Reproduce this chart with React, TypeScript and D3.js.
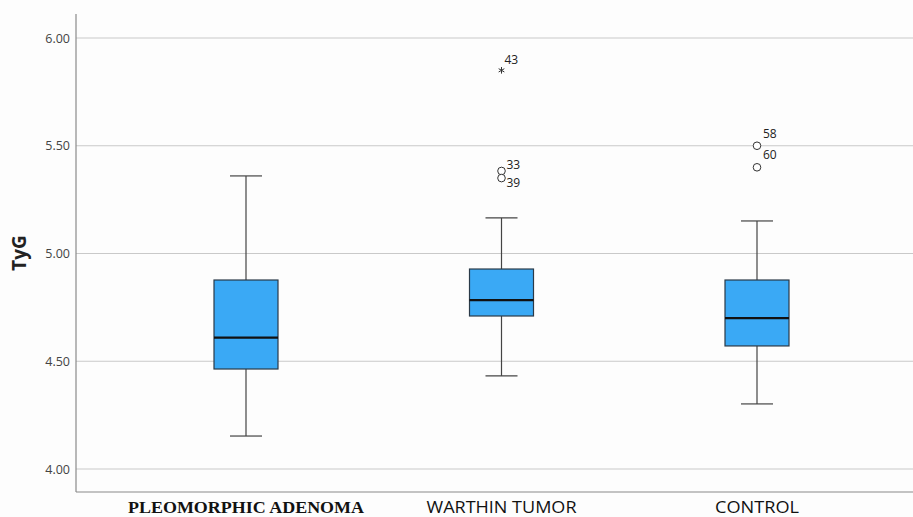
import React from 'react'
import * as d3 from 'd3'

// data
const groups = ['PLEOMORPHIC ADENOMA', 'WARTHIN TUMOR', 'CONTROL']
const whiskerLow = [4.153, 4.432, 4.302]
const q1 = [4.464, 4.71, 4.571]
const median = [4.61, 4.784, 4.7]
const q3 = [4.877, 4.928, 4.877]
const whiskerHigh = [5.36, 5.165, 5.151]
const outliers = [
  { group: 'WARTHIN TUMOR', value: 5.85, id: '43', extreme: true },
  { group: 'WARTHIN TUMOR', value: 5.383, id: '33', extreme: false },
  { group: 'WARTHIN TUMOR', value: 5.35, id: '39', extreme: false },
  { group: 'CONTROL', value: 5.5, id: '58', extreme: false },
  { group: 'CONTROL', value: 5.4, id: '60', extreme: false },
]
const yTicks = [4.0, 4.5, 5.0, 5.5, 6.0]

// label offsets for case ids (style only)
const labelOffset: Record<string, [number, number]> = {
  '43': [3, -6],
  '33': [5, -2],
  '39': [5, 9],
  '58': [6, -8],
  '60': [6, -8],
}

// category label styling: first label is set in a bold serif, others in a sans
const labelFont = ['"Liberation Serif", serif', '"Open Sans", sans-serif', '"Open Sans", sans-serif']
const labelWeight = ['bold', 'normal', 'normal']
const labelSize = [17, 16, 16]
const labelWidth = [236, 150, 84]

const W = 913
const H = 517

export default function App() {
  const left = 76
  const right = 913
  const top = 14
  const bottom = 492

  const y = d3.scaleLinear().domain([4.0, 6.0]).range([469, 38])
  const x = d3.scalePoint<string>().domain(groups).range([246, 757])
  const boxW = 64
  const capW = 32

  const star = d3.symbol().type(d3.symbolAsterisk).size(30)()

  return (
    <svg width={W} height={H} style={{ position: 'absolute', left: 0, top: 0, background: '#fdfdfd' }}>
      {/* gridlines */}
      {yTicks.map(t => (
        <line key={t} x1={left} x2={right} y1={y(t)} y2={y(t)} stroke="#c9c9c9" strokeWidth={1} />
      ))}
      {/* axes */}
      <line x1={left} x2={left} y1={top} y2={bottom} stroke="#8a8a8a" strokeWidth={1.2} />
      <line x1={left} x2={right} y1={bottom} y2={bottom} stroke="#8a8a8a" strokeWidth={1.2} />
      {yTicks.map(t => (
        <text key={t} x={70} y={y(t)} dy="0.36em" textAnchor="end" fontSize={12.5}
          fontFamily='"Open Sans", sans-serif' fill="#444">{t.toFixed(2)}</text>
      ))}
      <text transform={`translate(26,253) rotate(-90)`} textAnchor="middle" fontSize={19}
        fontWeight="bold" fontFamily='"Open Sans", sans-serif' fill="#222">TyG</text>

      {/* boxes */}
      {groups.map((g, i) => {
        const cx = x(g) as number
        return (
          <g key={g}>
            <line x1={cx} x2={cx} y1={y(whiskerHigh[i])} y2={y(q3[i])} stroke="#444" strokeWidth={1.2} />
            <line x1={cx} x2={cx} y1={y(q1[i])} y2={y(whiskerLow[i])} stroke="#444" strokeWidth={1.2} />
            <line x1={cx - capW / 2} x2={cx + capW / 2} y1={y(whiskerHigh[i])} y2={y(whiskerHigh[i])} stroke="#444" strokeWidth={1.2} />
            <line x1={cx - capW / 2} x2={cx + capW / 2} y1={y(whiskerLow[i])} y2={y(whiskerLow[i])} stroke="#444" strokeWidth={1.2} />
            <rect x={cx - boxW / 2} y={y(q3[i])} width={boxW} height={y(q1[i]) - y(q3[i])}
              fill="#3aa9f5" stroke="#2a3a48" strokeWidth={1.2} />
            <line x1={cx - boxW / 2} x2={cx + boxW / 2} y1={y(median[i])} y2={y(median[i])} stroke="#111" strokeWidth={2.2} />
            <text x={cx} y={513} textAnchor="middle" fontSize={labelSize[i]}
              textLength={labelWidth[i]} lengthAdjust="spacingAndGlyphs"
              fontWeight={labelWeight[i]} fontFamily={labelFont[i]} fill="#111">{g}</text>
          </g>
        )
      })}

      {/* outliers */}
      {outliers.map(o => {
        const cx = x(o.group) as number
        const cy = y(o.value)
        const [dx, dy] = labelOffset[o.id]
        return (
          <g key={o.id}>
            {o.extreme
              ? <path d={star as string} transform={`translate(${cx},${cy})`} stroke="#333" strokeWidth={1} fill="none" />
              : <circle cx={cx} cy={cy} r={3.8} fill="#fff" stroke="#333" strokeWidth={1} />}
            <text x={cx + dx} y={cy + dy} fontSize={12} fontFamily='"Open Sans", sans-serif' fill="#222">{o.id}</text>
          </g>
        )
      })}
    </svg>
  )
}
